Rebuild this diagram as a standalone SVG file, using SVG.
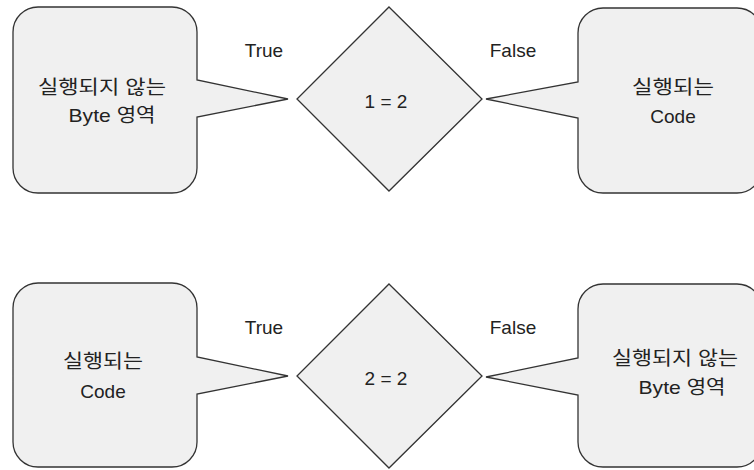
<svg xmlns="http://www.w3.org/2000/svg" width="754" height="470" viewBox="0 0 754 470">
<style>
.shape{fill:#f0f0f0;stroke:#333;stroke-width:1.3;stroke-linejoin:miter}
.t{font-family:"Liberation Sans","Noto Sans CJK KR",sans-serif;font-size:19px;fill:#222;text-anchor:middle}
</style>
<rect width="754" height="470" fill="#fff"/>
<g id="callout-top-left">
<path class="shape" d="M38,7 H172 A25,25 0 0 1 197,32 V80 L288,99 L197,117 V168 A25,25 0 0 1 172,193 H38 A25,25 0 0 1 13,168 V32 A25,25 0 0 1 38,7 Z"/>
<text class="t" x="102" y="94" textLength="128" lengthAdjust="spacingAndGlyphs">실행되지 않는</text>
<text class="t" x="112" y="122" textLength="87" lengthAdjust="spacingAndGlyphs">Byte 영역</text>
</g>
<g id="decision-top">
<polygon class="shape" points="389,7 482,99 389,191 297,99"/>
<text class="t" x="386" y="108">1 = 2</text>
</g>
<g id="callout-top-right">
<path class="shape" d="M603,8 H737 A25,25 0 0 1 762,33 V168 A25,25 0 0 1 737,193 H603 A25,25 0 0 1 578,168 V118 L486,99 L578,82 V33 A25,25 0 0 1 603,8 Z"/>
<text class="t" x="673" y="94" textLength="82" lengthAdjust="spacingAndGlyphs">실행되는</text>
<text class="t" x="673" y="123">Code</text>
</g>
<g id="callout-bottom-left">
<path class="shape" d="M38,283 H172 A25,25 0 0 1 197,308 V357 L288,376 L197,394 V442 A25,25 0 0 1 172,467 H38 A25,25 0 0 1 13,442 V308 A25,25 0 0 1 38,283 Z"/>
<text class="t" x="103" y="368" textLength="80" lengthAdjust="spacingAndGlyphs">실행되는</text>
<text class="t" x="103" y="398">Code</text>
</g>
<g id="decision-bottom">
<polygon class="shape" points="389,284 482,376 389,468 297,376"/>
<text class="t" x="386" y="385">2 = 2</text>
</g>
<g id="callout-bottom-right">
<path class="shape" d="M603,284 H737 A25,25 0 0 1 762,309 V442 A25,25 0 0 1 737,467 H603 A25,25 0 0 1 578,442 V395 L486,377 L578,358 V309 A25,25 0 0 1 603,284 Z"/>
<text class="t" x="675" y="365" textLength="126" lengthAdjust="spacingAndGlyphs">실행되지 않는</text>
<text class="t" x="682" y="394" textLength="87" lengthAdjust="spacingAndGlyphs">Byte 영역</text>
</g>
<g id="connectors">
<text class="t" x="264" y="57">True</text>
<text class="t" x="513" y="57">False</text>
<text class="t" x="264" y="334">True</text>
<text class="t" x="513" y="334">False</text>
</g>
</svg>
